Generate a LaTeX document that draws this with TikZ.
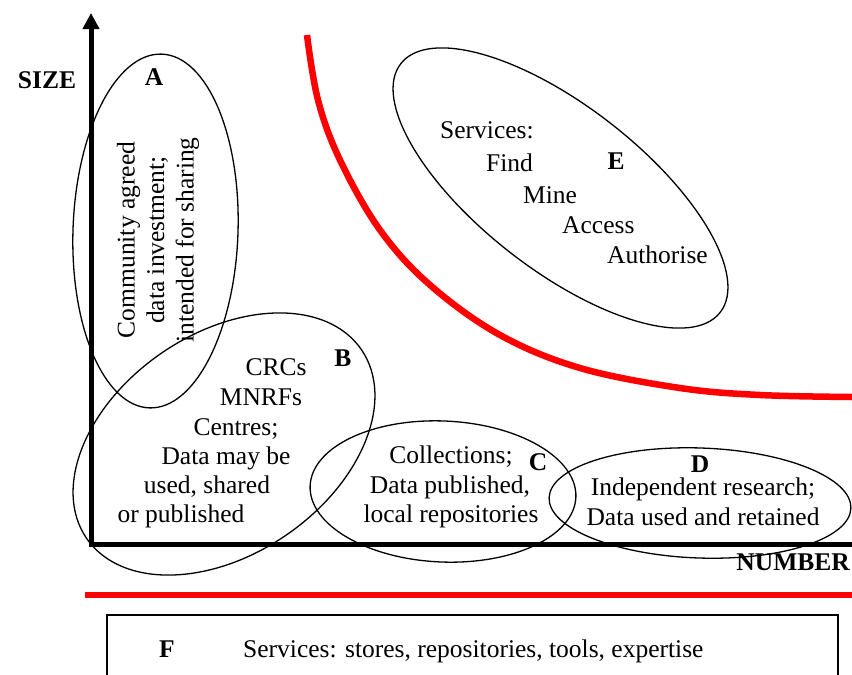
\documentclass[tikz,border=0pt]{standalone}
\usepackage{fontspec}
\setmainfont{Liberation Serif}
\usetikzlibrary{arrows.meta}
\begin{document}
\begin{tikzpicture}[x=1pt,y=-1pt,
  txt/.style={font=\fontsize{25.5}{29.5}\selectfont, inner sep=0pt},
  lbl/.style={font=\bfseries\fontsize{25.5}{29.5}\selectfont, inner sep=0pt},
  oval/.style={draw, line width=1.3pt},
  axis/.style={line width=5pt},
  redline/.style={draw=red, line width=6.5pt}]
\useasboundingbox (0,0) rectangle (852,675);
% axes
\coordinate (O) at (91,544);
\coordinate (ytip) at (91,13);
\coordinate (xend) at (852,544);
\draw[axis, -{Triangle[length=16pt,width=16pt]}] (xend) -- (O) -- (ytip);
\node[lbl, anchor=base] (size) at (47,88) {SIZE};
\node[lbl, anchor=base east] (number) at (850,570) {NUMBER};
% red boundary curve
\draw[redline] plot[smooth, tension=0.6] coordinates {(307,35) (318,100) (340,160) (380,230) (430,285) (500,335) (580,368) (680,388) (760,395) (852,397)};
\draw[redline] (85,595) -- (852,595);
% ellipses
\draw[oval, rotate around={-2:(155.5,231)}] (155.5,231) ellipse [x radius=82.5, y radius=177];
\draw[oval, rotate around={34.5:(224,444)}] (224,444) ellipse [x radius=166.7, y radius=110.3];
\draw[oval, rotate around={-2.5:(443,491.5)}] (443,491.5) ellipse [x radius=133, y radius=70.5];
\draw[oval, rotate around={-2:(700,503)}] (700,503) ellipse [x radius=151, y radius=55];
\draw[oval, rotate around={-37.9:(560.5,188)}] (560.5,188) ellipse [x radius=202.4, y radius=81.8];
% A
\node[lbl, anchor=base] (la) at (154,85.5) {A};
\node[txt, rotate=90, align=center] (ta) at (158,240) {Community agreed\\data investment;\\intended for sharing};
% B
\node[lbl, anchor=base] (lb) at (343,366.5) {B};
\node[txt, anchor=base] (b1) at (276,375) {CRCs};
\node[txt, anchor=base] (b2) at (261,405) {MNRFs};
\node[txt, anchor=base] (b3) at (236,435) {Centres;};
\node[txt, anchor=base] (b4) at (226,464) {Data may be};
\node[txt, anchor=base] (b5) at (207,493) {used, shared};
\node[txt, anchor=base] (b6) at (181,522) {or published};
% C
\node[lbl, anchor=base] (lc) at (538,470) {C};
\node[txt, anchor=base] (c1) at (451,463) {Collections;};
\node[txt, anchor=base] (c2) at (450,493) {Data published,};
\node[txt, anchor=base] (c3) at (451,522) {local repositories};
% D
\node[lbl, anchor=base] (ld) at (700,472) {D};
\node[txt, anchor=base] (d1) at (703,495) {Independent research;};
\node[txt, anchor=base] (d2) at (703,525) {Data used and retained};
% E
\node[lbl, anchor=base] (le) at (616,169.5) {E};
\node[txt, anchor=base west] (e1) at (440,138) {Services:};
\node[txt, anchor=base west] (e2) at (486,171) {Find};
\node[txt, anchor=base west] (e3) at (523,203) {Mine};
\node[txt, anchor=base west] (e4) at (562,233) {Access};
\node[txt, anchor=base west] (e5) at (607,263) {Authorise};
% F
\draw[line width=1.3pt] (107,676) -- (107,615) -- (838,615) -- (838,676);
\node[lbl, anchor=base] (lf) at (167,657.5) {F};
\node[txt, anchor=base west] (f1) at (243,657) {Services: stores, repositories, tools, expertise};
\end{tikzpicture}
\end{document}
